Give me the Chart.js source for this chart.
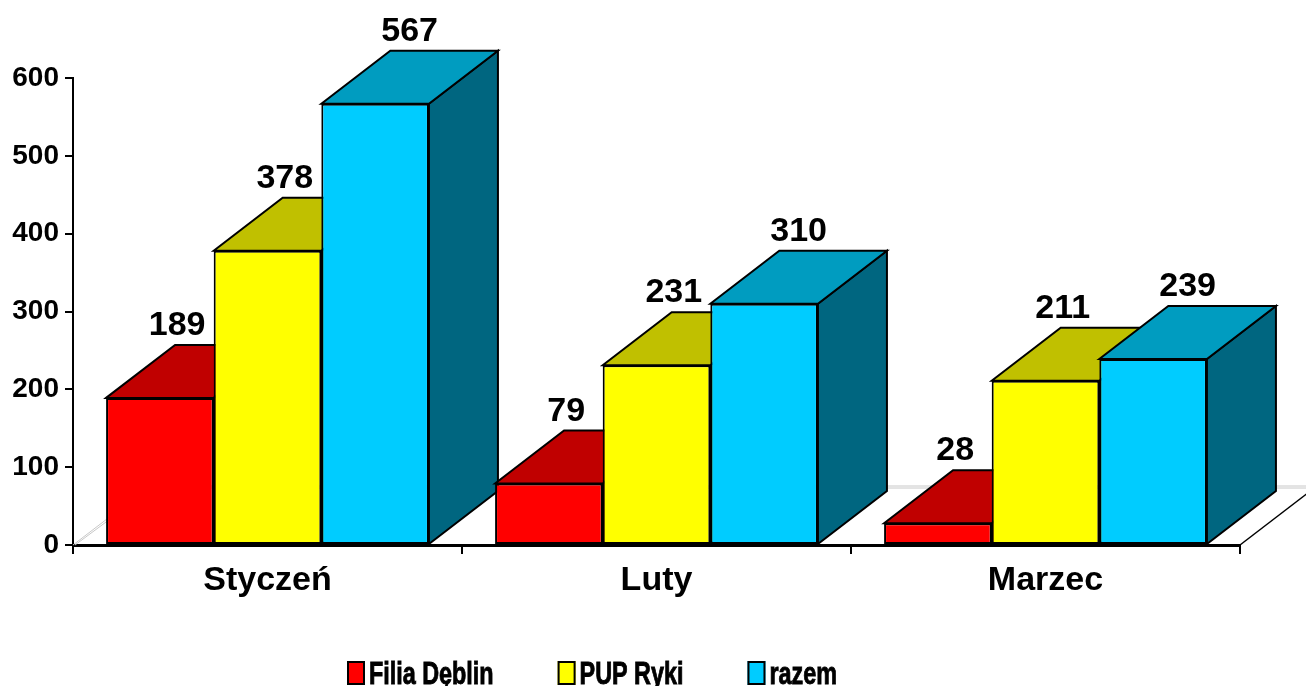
<!DOCTYPE html>
<html><head><meta charset="utf-8">
<script src="https://cdn.jsdelivr.net/npm/chart.js@4.4.1/dist/chart.umd.min.js"></script>
<style>html,body{margin:0;padding:0;background:#fff;overflow:hidden}#wrap{width:1306px;height:686px;position:relative}</style>
</head><body><div id="wrap"><canvas id="c"></canvas></div>
<script>
const categories = ['Styczeń', 'Luty', 'Marzec'];
const seriesNames = ['Filia Dęblin', 'PUP Ryki', 'razem'];
const filiaDeblin = [189, 79, 28];
const pupRyki = [378, 231, 211];
const razem = [567, 310, 239];
const yTickMin = 0, yTickMax = 600, yTickStep = 100;

const frontColors = ['#FF0000', '#FFFF00', '#00CCFF'];
const topColors = ['#C00000', '#C0C000', '#009CC0'];
const sideColors = ['#800000', '#808000', '#006680'];
const FONT = '"Liberation Sans", Arial, Helvetica, sans-serif';
const DX = 69, DY = -53;      // bar depth projection
const FX = 77, FY = -59;      // floor depth projection

function poly(ctx, pts, fill) {
  ctx.beginPath();
  ctx.moveTo(pts[0][0], pts[0][1]);
  for (let k = 1; k < pts.length; k++) ctx.lineTo(pts[k][0], pts[k][1]);
  ctx.closePath();
  ctx.fillStyle = fill; ctx.fill();
  ctx.lineWidth = 2; ctx.strokeStyle = '#000'; ctx.lineJoin = 'miter'; ctx.stroke();
}

const threeD = {
  id: 'threeD',
  beforeDatasetsDraw(chart) {
    const ctx = chart.ctx, ca = chart.chartArea;
    ctx.save();
    // floor
    ctx.strokeStyle = '#c8c8c8'; ctx.lineWidth = 1;
    ctx.beginPath();
    ctx.moveTo(ca.left, ca.bottom); ctx.lineTo(ca.left + FX, ca.bottom + FY);
    ctx.lineTo(ca.right + FX, ca.bottom + FY);
    ctx.stroke();
    ctx.beginPath();
    ctx.moveTo(ca.left + 2, ca.bottom); ctx.lineTo(ca.left + FX + 2, ca.bottom + FY + 2);
    ctx.lineTo(ca.right + FX, ca.bottom + FY + 2);
    ctx.stroke();
    ctx.strokeStyle = '#000'; ctx.lineWidth = 1.5;
    ctx.beginPath(); ctx.moveTo(ca.right, ca.bottom); ctx.lineTo(ca.right + FX, ca.bottom + FY); ctx.stroke();
    // side and top faces, back-to-front order
    const n = chart.data.labels.length;
    for (let i = 0; i < n; i++) {
      chart.data.datasets.forEach((ds, d) => {
        const el = chart.getDatasetMeta(d).data[i];
        const p = el.getProps(['x', 'y', 'base', 'width'], true);
        const l = p.x - p.width / 2, r = p.x + p.width / 2;
        poly(ctx, [[r, p.y], [r + DX, p.y + DY], [r + DX, p.base + DY], [r, p.base]], sideColors[d]);
        poly(ctx, [[l, p.y], [l + DX, p.y + DY], [r + DX, p.y + DY], [r, p.y]], topColors[d]);
      });
    }
    ctx.restore();
  },
  afterDatasetsDraw(chart) {
    const ctx = chart.ctx;
    ctx.save();
    ctx.font = 'bold 34px ' + FONT;
    ctx.fillStyle = '#000'; ctx.textAlign = 'center'; ctx.textBaseline = 'alphabetic';
    const nds = chart.data.datasets.length;
    chart.data.datasets.forEach((ds, d) => {
      chart.getDatasetMeta(d).data.forEach((el, i) => {
        const p = el.getProps(['x', 'y'], true);
        const off = d === nds - 1 ? DX / 2 : DX / 4;
        ctx.fillText(String(ds.data[i]), p.x + off, p.y - 63);
      });
    });
    ctx.restore();
  },
  afterDraw(chart) {
    // legend
    const ctx = chart.ctx;
    ctx.save();
    ctx.font = 'bold 32px ' + FONT;
    ctx.textBaseline = 'alphabetic'; ctx.textAlign = 'left';
    const squeeze = 0.73;
    let x = 347; const gap = 64, boxW = 18, boxH = 24, top = 661;
    chart.data.datasets.forEach((ds, d) => {
      ctx.fillStyle = frontColors[d];
      ctx.fillRect(x, top, boxW, boxH);
      ctx.lineWidth = 2; ctx.strokeStyle = '#000';
      ctx.strokeRect(x + 1, top + 1, boxW - 2, boxH - 2);
      const w = ctx.measureText(ds.label).width * squeeze;
      ctx.fillStyle = '#000';
      ctx.fillText(ds.label, x + boxW + 4, top + 23, w);
      ctx.lineWidth = 0.9;
      ctx.strokeText(ds.label, x + boxW + 4, top + 23, w);
      x += boxW + 4 + w + gap;
    });
    ctx.restore();
  }
};

new Chart(document.getElementById('c'), {
  type: 'bar',
  data: {
    labels: categories,
    datasets: [
      { label: seriesNames[0], data: filiaDeblin },
      { label: seriesNames[1], data: pupRyki },
      { label: seriesNames[2], data: razem }
    ].map((ds, d) => Object.assign(ds, {
      backgroundColor: frontColors[d], borderColor: '#000', borderWidth: 2,
      borderSkipped: false, categoryPercentage: 0.83, barPercentage: 1.0, inflateAmount: 0
    }))
  },
  options: {
    responsive: true, maintainAspectRatio: false, animation: false,
    layout: { padding: { left: 0, right: 66, top: 78, bottom: 81 } },
    plugins: { legend: { display: false }, tooltip: { enabled: false } },
    scales: {
      x: {
        afterFit(s) { s.height = 60; },
        grid: { drawOnChartArea: false, drawTicks: true, tickLength: 9, color: '#000', lineWidth: 2, offset: true },
        border: { display: true, color: '#000', width: 3 },
        ticks: { color: '#000', font: { family: FONT, size: 34, weight: 'bold' }, padding: 6 }
      },
      y: {
        min: yTickMin, max: yTickMax,
        afterFit(s) { s.width = 73; },
        grid: { drawOnChartArea: false, drawTicks: true, tickLength: 8, color: '#000', lineWidth: 2 },
        border: { display: true, color: '#000', width: 2 },
        ticks: { stepSize: yTickStep, color: '#000', font: { family: FONT, size: 28, weight: 'bold' }, padding: 6 }
      }
    }
  },
  plugins: [threeD]
});
</script></body></html>
